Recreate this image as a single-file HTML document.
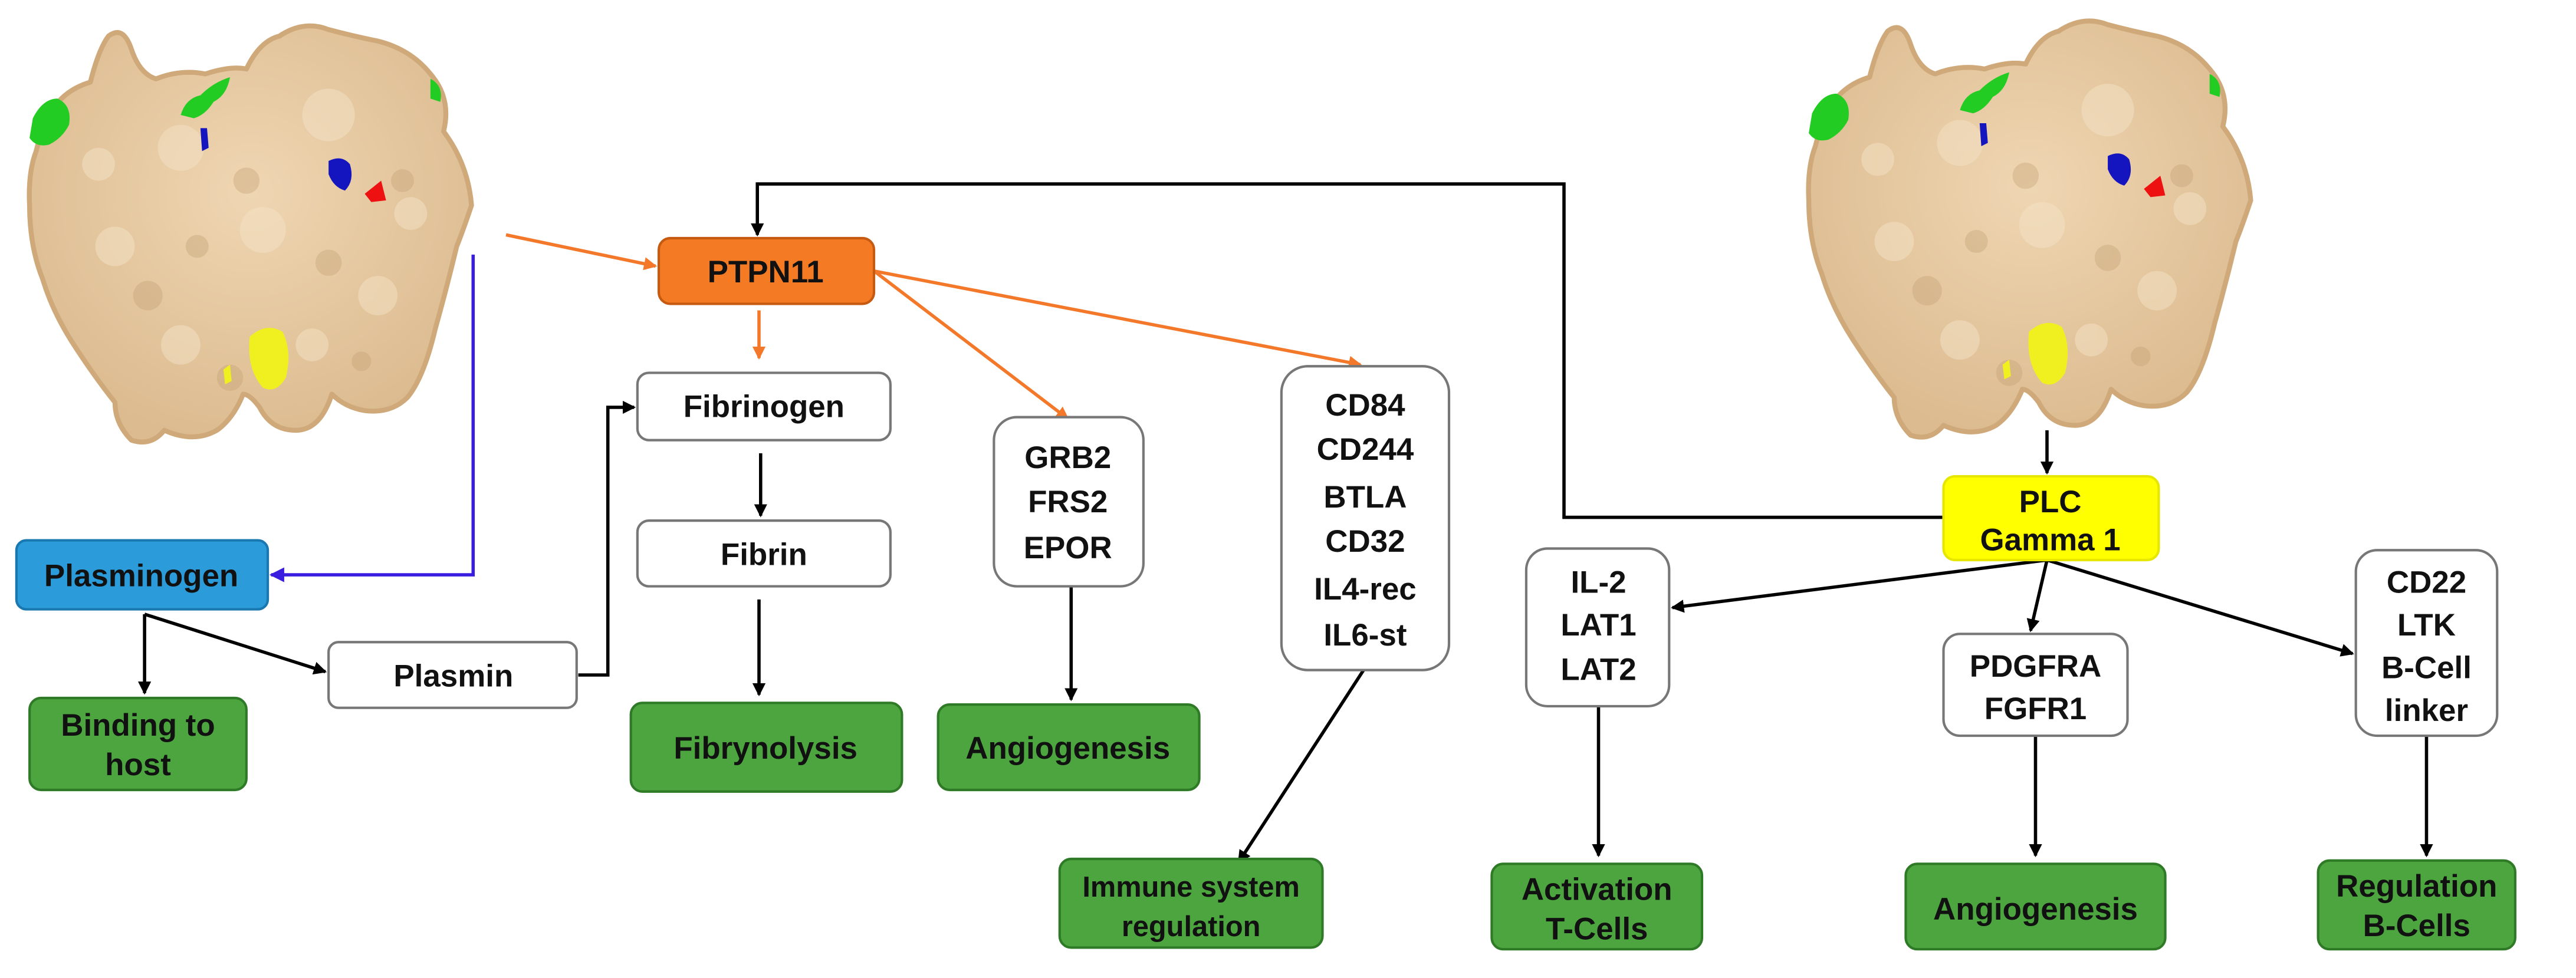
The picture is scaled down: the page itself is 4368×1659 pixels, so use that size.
<!DOCTYPE html>
<html><head><meta charset="utf-8"><style>
html,body{margin:0;padding:0;background:#fff;}
svg{display:block;}
text{font-family:"Liberation Sans",sans-serif;font-weight:bold;font-size:19px;fill:#111;text-anchor:middle;}
text.s{font-size:17.5px;}
</style></head><body>
<svg width="4368" height="1659" viewBox="0 0 1568 595.5" xmlns="http://www.w3.org/2000/svg">
<defs>
<marker id="ab" markerWidth="8" markerHeight="8" refX="7" refY="4" orient="auto" markerUnits="userSpaceOnUse"><path d="M0,0 L8,4 L0,8 z" fill="#000"/></marker>
<marker id="ao" markerWidth="8" markerHeight="8" refX="7" refY="4" orient="auto" markerUnits="userSpaceOnUse"><path d="M0,0 L8,4 L0,8 z" fill="#f4782a"/></marker>
<marker id="au" markerWidth="9" markerHeight="9" refX="8" refY="4.5" orient="auto" markerUnits="userSpaceOnUse"><path d="M0,0 L9,4.5 L0,9 z" fill="#3a1ee0"/></marker>
<radialGradient id="tan" cx="50%" cy="40%" r="60%"><stop offset="0" stop-color="#efd6b2"/><stop offset="1" stop-color="#dcbb90"/></radialGradient>
<g id="prot">
<path d="M30,70 Q38,55 55,50 Q60,30 66,22 Q75,15 80,30 Q85,45 95,48 Q110,42 125,45 Q140,40 150,42 Q158,25 170,22 Q185,12 200,18 Q215,22 230,25 Q250,30 262,45 Q275,60 270,80 Q285,100 287,125 Q282,140 278,150 Q272,175 265,200 Q258,230 248,242 Q238,252 222,250 Q210,248 202,240 Q195,262 180,262 Q165,262 158,248 Q152,240 148,240 Q142,255 132,262 Q118,270 100,262 Q92,272 80,268 Q70,258 70,245 Q58,230 45,210 Q32,190 26,170 Q18,150 18,125 Q17,105 22,92 Q25,80 30,70 Z" fill="url(#tan)" stroke="#cfa979" stroke-width="3" stroke-linejoin="round"/>
<g fill="#f3e0c2" opacity="0.55"><circle cx="110" cy="90" r="14"/><circle cx="200" cy="70" r="16"/><circle cx="160" cy="140" r="14"/><circle cx="70" cy="150" r="12"/><circle cx="230" cy="180" r="12"/><circle cx="110" cy="210" r="12"/><circle cx="60" cy="100" r="10"/><circle cx="250" cy="130" r="10"/><circle cx="190" cy="210" r="10"/></g>
<g fill="#c19d70" opacity="0.35"><circle cx="150" cy="110" r="8"/><circle cx="90" cy="180" r="9"/><circle cx="200" cy="160" r="8"/><circle cx="140" cy="230" r="8"/><circle cx="245" cy="110" r="7"/><circle cx="120" cy="150" r="7"/><circle cx="220" cy="220" r="6"/></g>
<path d="M20,72 Q26,60 35,60 Q44,64 42,76 Q38,84 30,88 Q22,90 18,84 Z" fill="#22cc22"/>
<path d="M110,70 Q113,60 122,58 Q130,50 140,47 Q138,58 130,62 Q125,70 118,72 Z" fill="#22cc22"/>
<path d="M262,48 Q270,52 268,62 L262,60 Z" fill="#22cc22"/>
<path d="M122,78 L126,78 L127,90 L123,92 Z" fill="#1515c0"/>
<path d="M200,98 Q208,94 213,100 Q216,110 210,116 Q203,114 200,106 Z" fill="#1515c0"/>
<path d="M222,118 L232,110 L235,122 L226,123 Z" fill="#ee1111"/>
<path d="M152,205 Q162,196 172,202 Q178,214 174,230 Q168,240 160,236 Q150,225 152,205 Z" fill="#f0f020"/>
<path d="M136,225 L140,222 L141,232 L137,234 Z" fill="#f0f020"/>
</g>
</defs>
<use href="#prot"/>
<use href="#prot" transform="translate(1083,-3)"/>

<g fill="none" stroke-width="2">
<path d="M308,143 L399,162" stroke="#f4782a" marker-end="url(#ao)"/>
<path d="M462,189 L462,218" stroke="#f4782a" marker-end="url(#ao)"/>
<path d="M532,165 L650,255" stroke="#f4782a" marker-end="url(#ao)"/>
<path d="M532,165 L828,222" stroke="#f4782a" marker-end="url(#ao)"/>
<path d="M288,155 L288,350 L165,350" stroke="#3a1ee0" marker-end="url(#au)"/>
<path d="M1183,315 L952,315 L952,112 L461,112 L461,143" stroke="#000" marker-end="url(#ab)"/>
<path d="M88,374 L88,422" stroke="#000" marker-end="url(#ab)"/>
<path d="M88,374 L198,409" stroke="#000" marker-end="url(#ab)"/>
<path d="M352,411 L370,411 L370,248 L386,248" stroke="#000" marker-end="url(#ab)"/>
<path d="M463,276 L463,314" stroke="#000" marker-end="url(#ab)"/>
<path d="M462,365 L462,423" stroke="#000" marker-end="url(#ab)"/>
<path d="M652,357 L652,426" stroke="#000" marker-end="url(#ab)"/>
<path d="M830,408 L754,525" stroke="#000" marker-end="url(#ab)"/>
<path d="M1246,262 L1246,288" stroke="#000" marker-end="url(#ab)"/>
<path d="M1246,341 L1018,370" stroke="#000" marker-end="url(#ab)"/>
<path d="M1246,341 L1236,384" stroke="#000" marker-end="url(#ab)"/>
<path d="M1246,341 L1432,398" stroke="#000" marker-end="url(#ab)"/>
<path d="M973,430 L973,521" stroke="#000" marker-end="url(#ab)"/>
<path d="M1239,448 L1239,521" stroke="#000" marker-end="url(#ab)"/>
<path d="M1477,448 L1477,521" stroke="#000" marker-end="url(#ab)"/>
</g>

<g stroke-width="1.5">
<rect x="401" y="145" width="131" height="40" rx="7" fill="#f47b24" stroke="#c55a10"/>
<rect x="10" y="329" width="153" height="42" rx="6" fill="#2b9bd9" stroke="#1a78b0"/>
<rect x="18" y="425" width="132" height="56" rx="7" fill="#4ca53e" stroke="#2f7a26"/>
<rect x="200" y="391" width="151" height="40" rx="6" fill="#fff" stroke="#777"/>
<rect x="388" y="227" width="154" height="41" rx="7" fill="#fff" stroke="#777"/>
<rect x="388" y="317" width="154" height="40" rx="7" fill="#fff" stroke="#777"/>
<rect x="384" y="428" width="165" height="54" rx="7" fill="#4ca53e" stroke="#2f7a26"/>
<rect x="605" y="254" width="91" height="103" rx="14" fill="#fff" stroke="#777"/>
<rect x="571" y="429" width="159" height="52" rx="7" fill="#4ca53e" stroke="#2f7a26"/>
<rect x="780" y="223" width="102" height="185" rx="16" fill="#fff" stroke="#777"/>
<rect x="645" y="523" width="160" height="54" rx="7" fill="#4ca53e" stroke="#2f7a26"/>
<rect x="1183" y="290" width="131" height="51" rx="7" fill="#ffff00" stroke="#e6e600"/>
<rect x="929" y="334" width="87" height="96" rx="13" fill="#fff" stroke="#777"/>
<rect x="1183" y="386" width="112" height="62" rx="10" fill="#fff" stroke="#777"/>
<rect x="1434" y="335" width="86" height="113" rx="13" fill="#fff" stroke="#777"/>
<rect x="908" y="526" width="128" height="52" rx="7" fill="#4ca53e" stroke="#2f7a26"/>
<rect x="1160" y="526" width="158" height="52" rx="7" fill="#4ca53e" stroke="#2f7a26"/>
<rect x="1411" y="524" width="120" height="54" rx="7" fill="#4ca53e" stroke="#2f7a26"/>
</g>

<text x="466" y="172">PTPN11</text>
<text x="86" y="357">Plasminogen</text>
<text x="84" y="448">Binding to</text>
<text x="84" y="472">host</text>
<text x="276" y="418">Plasmin</text>
<text x="465" y="254">Fibrinogen</text>
<text x="465" y="344">Fibrin</text>
<text x="466" y="462">Fibrynolysis</text>
<text x="650" y="285">GRB2</text>
<text x="650" y="312">FRS2</text>
<text x="650" y="340">EPOR</text>
<text x="650" y="462">Angiogenesis</text>
<text x="831" y="253">CD84</text>
<text x="831" y="280">CD244</text>
<text x="831" y="309">BTLA</text>
<text x="831" y="336">CD32</text>
<text x="831" y="365">IL4-rec</text>
<text x="831" y="393">IL6-st</text>
<text class="s" x="725" y="546">Immune system</text>
<text class="s" x="725" y="570">regulation</text>
<text x="1248" y="312">PLC</text>
<text x="1248" y="335">Gamma 1</text>
<text x="973" y="361">IL-2</text>
<text x="973" y="387">LAT1</text>
<text x="973" y="414">LAT2</text>
<text x="1239" y="412">PDGFRA</text>
<text x="1239" y="438">FGFR1</text>
<text x="1477" y="361">CD22</text>
<text x="1477" y="387">LTK</text>
<text x="1477" y="413">B-Cell</text>
<text x="1477" y="439">linker</text>
<text x="972" y="548">Activation</text>
<text x="972" y="572">T-Cells</text>
<text x="1239" y="560">Angiogenesis</text>
<text x="1471" y="546">Regulation</text>
<text x="1471" y="570">B-Cells</text>
</svg>
</body></html>
